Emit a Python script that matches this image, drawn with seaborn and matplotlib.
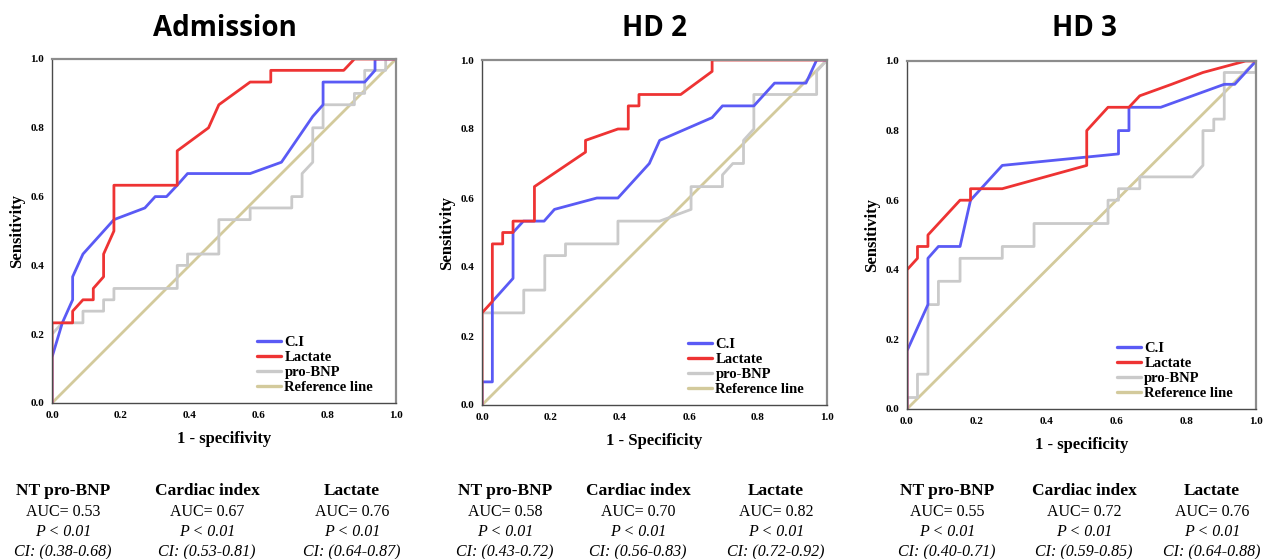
import numpy as np
import pandas as pd
import matplotlib
matplotlib.use("Agg")
import matplotlib.pyplot as plt
from matplotlib.lines import Line2D
import seaborn as sns

sns.set_theme(style="white")
plt.rcParams['font.family'] = ['Liberation Serif', 'DejaVu Serif']
plt.rcParams['text.color'] = 'black'
plt.rcParams['axes.labelcolor'] = 'black'
plt.rcParams['xtick.color'] = 'black'
plt.rcParams['ytick.color'] = 'black'

# ---------------- data ----------------
titles = ["Admission", "HD 2", "HD 3"]
xlabels = ["1 - specifivity", "1 - Specificity", "1 - specificity"]
series_names = ["C.I", "Lactate", "pro-BNP", "Reference line"]

# Admission
adm_ci_x = [0, 0, 0.03, 0.06, 0.06, 0.09, 0.18, 0.27, 0.30, 0.333, 0.364, 0.394, 0.576, 0.667, 0.758, 0.788, 0.788, 0.909, 0.939, 0.939, 1]
adm_ci_y = [0, 0.133, 0.233, 0.30, 0.367, 0.433, 0.533, 0.567, 0.60, 0.60, 0.633, 0.667, 0.667, 0.70, 0.833, 0.867, 0.933, 0.933, 0.967, 1.0, 1]
adm_lac_x = [0, 0, 0.06, 0.06, 0.09, 0.12, 0.12, 0.15, 0.15, 0.18, 0.18, 0.364, 0.364, 0.455, 0.485, 0.576, 0.636, 0.636, 0.848, 0.879, 1]
adm_lac_y = [0, 0.233, 0.233, 0.267, 0.30, 0.30, 0.333, 0.367, 0.433, 0.50, 0.633, 0.633, 0.733, 0.80, 0.867, 0.933, 0.933, 0.967, 0.967, 1.0, 1]
adm_bnp_x = [0, 0, 0.03, 0.09, 0.09, 0.15, 0.15, 0.18, 0.18, 0.364, 0.364, 0.394, 0.394, 0.485, 0.485, 0.576, 0.576, 0.697, 0.697, 0.727, 0.727, 0.758, 0.758, 0.788, 0.788, 0.879, 0.879, 0.909, 0.909, 0.97, 0.97, 1]
adm_bnp_y = [0, 0.20, 0.233, 0.233, 0.267, 0.267, 0.30, 0.30, 0.333, 0.333, 0.40, 0.40, 0.433, 0.433, 0.533, 0.533, 0.567, 0.567, 0.60, 0.60, 0.667, 0.70, 0.80, 0.80, 0.867, 0.867, 0.90, 0.90, 0.967, 0.967, 1.0, 1]

# HD 2
hd2_ci_x = [0, 0, 0.03, 0.03, 0.09, 0.09, 0.12, 0.18, 0.21, 0.333, 0.394, 0.485, 0.515, 0.667, 0.697, 0.788, 0.848, 0.939, 0.97, 1]
hd2_ci_y = [0, 0.067, 0.067, 0.30, 0.367, 0.50, 0.533, 0.533, 0.567, 0.60, 0.60, 0.70, 0.767, 0.833, 0.867, 0.867, 0.933, 0.933, 1.0, 1]
hd2_lac_x = [0, 0, 0.03, 0.03, 0.06, 0.06, 0.09, 0.09, 0.152, 0.152, 0.30, 0.30, 0.394, 0.424, 0.424, 0.455, 0.455, 0.576, 0.667, 0.667, 1]
hd2_lac_y = [0, 0.267, 0.30, 0.467, 0.467, 0.50, 0.50, 0.533, 0.533, 0.633, 0.733, 0.767, 0.80, 0.80, 0.867, 0.867, 0.90, 0.90, 0.967, 1.0, 1]
hd2_bnp_x = [0, 0, 0.121, 0.121, 0.182, 0.182, 0.242, 0.242, 0.394, 0.394, 0.515, 0.606, 0.606, 0.697, 0.697, 0.727, 0.758, 0.758, 0.788, 0.788, 0.97, 0.97, 1]
hd2_bnp_y = [0, 0.267, 0.267, 0.333, 0.333, 0.433, 0.433, 0.467, 0.467, 0.533, 0.533, 0.567, 0.633, 0.633, 0.667, 0.70, 0.70, 0.767, 0.80, 0.90, 0.90, 0.967, 1]

# HD 3
hd3_ci_x = [0, 0, 0.06, 0.06, 0.09, 0.152, 0.182, 0.212, 0.273, 0.606, 0.606, 0.636, 0.636, 0.727, 0.909, 0.939, 1]
hd3_ci_y = [0, 0.167, 0.30, 0.433, 0.467, 0.467, 0.60, 0.633, 0.70, 0.733, 0.80, 0.80, 0.867, 0.867, 0.933, 0.933, 1]
hd3_lac_x = [0, 0, 0.03, 0.03, 0.06, 0.06, 0.152, 0.182, 0.182, 0.273, 0.515, 0.515, 0.576, 0.636, 0.667, 0.758, 0.848, 0.97, 1]
hd3_lac_y = [0, 0.40, 0.433, 0.467, 0.467, 0.50, 0.60, 0.60, 0.633, 0.633, 0.70, 0.80, 0.867, 0.867, 0.90, 0.933, 0.967, 1.0, 1]
hd3_bnp_x = [0, 0, 0.03, 0.03, 0.06, 0.06, 0.09, 0.09, 0.152, 0.152, 0.273, 0.273, 0.364, 0.364, 0.576, 0.576, 0.606, 0.606, 0.667, 0.667, 0.818, 0.848, 0.848, 0.879, 0.879, 0.909, 0.909, 1, 1]
hd3_bnp_y = [0, 0.033, 0.033, 0.10, 0.10, 0.30, 0.30, 0.367, 0.367, 0.433, 0.433, 0.467, 0.467, 0.533, 0.533, 0.60, 0.60, 0.633, 0.633, 0.667, 0.667, 0.70, 0.80, 0.80, 0.833, 0.833, 0.967, 0.967, 1]

ref_x = [0, 1]
ref_y = [0, 1]

# summary stats below each panel
stat_names = ["NT pro-BNP", "Cardiac index", "Lactate"]
auc_vals = [["0.53", "0.67", "0.76"], ["0.58", "0.70", "0.82"], ["0.55", "0.72", "0.76"]]
ci_vals = [["(0.38-0.68)", "(0.53-0.81)", "(0.64-0.87)"],
           ["(0.43-0.72)", "(0.56-0.83)", "(0.72-0.92)"],
           ["(0.40-0.71)", "(0.59-0.85)", "(0.64-0.88)"]]
p_text = "P < 0.01"

panels = [
    [(adm_ci_x, adm_ci_y), (adm_lac_x, adm_lac_y), (adm_bnp_x, adm_bnp_y), (ref_x, ref_y)],
    [(hd2_ci_x, hd2_ci_y), (hd2_lac_x, hd2_lac_y), (hd2_bnp_x, hd2_bnp_y), (ref_x, ref_y)],
    [(hd3_ci_x, hd3_ci_y), (hd3_lac_x, hd3_lac_y), (hd3_bnp_x, hd3_bnp_y), (ref_x, ref_y)],
]

colors = {"C.I": "#5a5af5", "Lactate": "#ee3333", "pro-BNP": "#cacaca", "Reference line": "#d3ca9c"}
draw_order = ["Reference line", "pro-BNP", "C.I", "Lactate"]

# ---------------- figure ----------------
W, H = 1266, 559
fig = plt.figure(figsize=(W / 100, H / 100), dpi=100)

axes_px = [(52, 396, 59, 403), (482, 827, 60, 405), (907, 1256, 61, 409)]
title_x = [225, 655, 1085]
col_x = [[63, 207, 352], [505, 638, 776], [947, 1084, 1212]]
row_y = [491, 512, 532, 552]

for i, (l, r, t, b) in enumerate(axes_px):
    ax = fig.add_axes([l / W, 1 - b / H, (r - l) / W, (b - t) / H])
    frames = []
    for name, (xs, ys) in zip(series_names, panels[i]):
        frames.append(pd.DataFrame({"x": xs, "y": ys, "series": name}))
    df = pd.concat(frames, ignore_index=True)
    for name in draw_order:
        sub = df[df["series"] == name]
        sns.lineplot(data=sub, x="x", y="y", ax=ax, sort=False, estimator=None,
                     color=colors[name], lw=2.0, legend=False)
    leg_handles = [Line2D([0], [0], color=colors[n], lw=2.4) for n in series_names]
    ax.legend(leg_handles, series_names, loc="lower right", bbox_to_anchor=(0.955, 0.005),
              frameon=False, prop={"family": "Liberation Serif", "weight": "bold", "size": 10.5},
              handlelength=1.6, labelspacing=0.12, handletextpad=0.25, borderpad=0.0)
    ax.set_xlim(0, 1)
    ax.set_ylim(0, 1)
    ticks = [0.0, 0.2, 0.4, 0.6, 0.8, 1.0]
    ax.set_xticks(ticks)
    ax.set_yticks(ticks)
    ax.set_xticklabels([f"{v:.1f}" for v in ticks], fontsize=8, fontweight="bold")
    ax.set_yticklabels([f"{v:.1f}" for v in ticks], fontsize=8, fontweight="bold")
    ax.tick_params(axis="both", direction="out", length=4, width=0.8, color="#444444", pad=1.5)
    ax.set_xlabel(xlabels[i], fontsize=12, fontweight="bold", labelpad=8)
    ax.set_ylabel("Sensitivity", fontsize=12, fontweight="bold", labelpad=4)
    for side in ["left", "bottom"]:
        ax.spines[side].set_color("#4a4a4a")
        ax.spines[side].set_linewidth(1.0)
    for side in ["top", "right"]:
        ax.spines[side].set_color("#8c8c8c")
        ax.spines[side].set_linewidth(1.6)
    ax.set_facecolor("white")

    fig.text(title_x[i] / W, 1 - 28 / H, titles[i], ha="center", va="center",
             fontsize=20, fontweight="bold", color="black", family=["Open Sans", "DejaVu Sans"])

    for j in range(3):
        cx = col_x[i][j] / W
        fig.text(cx, 1 - row_y[0] / H, stat_names[j], ha="center", va="center", fontsize=12.5, fontweight="bold")
        fig.text(cx, 1 - row_y[1] / H, f"AUC= {auc_vals[i][j]}", ha="center", va="center", fontsize=11.5)
        fig.text(cx, 1 - row_y[2] / H, p_text, ha="center", va="center", fontsize=11.5, style="italic")
        fig.text(cx, 1 - row_y[3] / H, f"CI: {ci_vals[i][j]}", ha="center", va="center", fontsize=11.5, style="italic")

fig.savefig("out.png", dpi=100, facecolor="white")
